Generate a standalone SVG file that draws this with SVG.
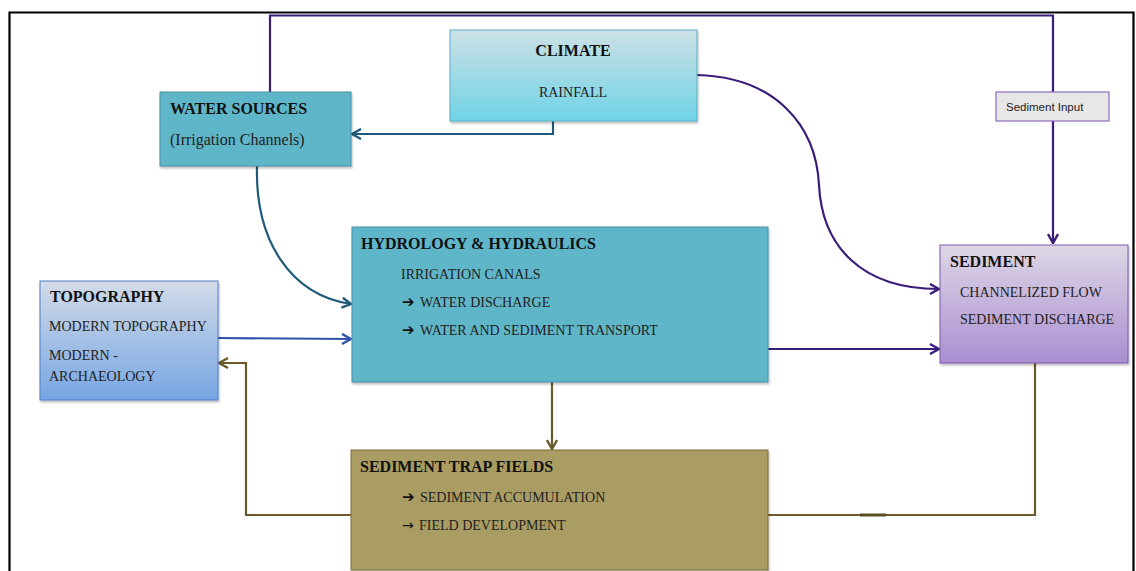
<svg xmlns="http://www.w3.org/2000/svg" width="1136" height="571" viewBox="0 0 1136 571">
  <style>
    .title { font-family: "Liberation Serif", "Times New Roman", serif; font-weight: bold; font-size: 16px; fill: #111; }
    .body { font-family: "Liberation Serif", "Times New Roman", serif; font-size: 14px; fill: #222; }
    .body16 { font-family: "Liberation Serif", "Times New Roman", serif; font-size: 16px; fill: #222; }
    .heavy { font-family: "DejaVu Sans", sans-serif; font-size: 15px; fill: #111; }
    .thin { font-family: "DejaVu Sans", sans-serif; font-size: 14px; fill: #111; }
    .tag { font-family: "Liberation Sans", Arial, sans-serif; font-size: 11.5px; fill: #222; }
    .box { filter: url(#shadow); }
    .conn { fill: none; stroke-width: 2.2; }
    .purple { stroke: #3b1c7a; }
    .teal { stroke: #1f5b78; }
    .blue { stroke: #2f53a8; }
    .olive { stroke: #6a5a2a; }
  </style>
  <defs>
    <filter id="shadow" x="-5%" y="-5%" width="112%" height="115%">
      <feDropShadow dx="1" dy="2" stdDeviation="1.2" flood-color="#000" flood-opacity="0.25"/>
    </filter>
    <linearGradient id="gClimate" x1="0" y1="0" x2="0" y2="1">
      <stop offset="0" stop-color="#cde0e6"/>
      <stop offset="1" stop-color="#6fd3e6"/>
    </linearGradient>
    <linearGradient id="gTopo" x1="0" y1="0" x2="0" y2="1">
      <stop offset="0" stop-color="#d3dbe8"/>
      <stop offset="1" stop-color="#76a6e3"/>
    </linearGradient>
    <linearGradient id="gSed" x1="0" y1="0" x2="0" y2="1">
      <stop offset="0" stop-color="#ddd7e6"/>
      <stop offset="1" stop-color="#aa8ed1"/>
    </linearGradient>
    <marker id="aPurple" viewBox="0 0 12 12" refX="11" refY="6" markerWidth="12" markerHeight="12" markerUnits="userSpaceOnUse" orient="auto">
      <path d="M2,1 L11,6 L2,11" fill="none" stroke="#3b1c7a" stroke-width="2.4"/>
    </marker>
    <marker id="aTeal" viewBox="0 0 12 12" refX="11" refY="6" markerWidth="12" markerHeight="12" markerUnits="userSpaceOnUse" orient="auto">
      <path d="M2,1 L11,6 L2,11" fill="none" stroke="#1f5b78" stroke-width="2.4"/>
    </marker>
    <marker id="aBlue" viewBox="0 0 12 12" refX="11" refY="6" markerWidth="12" markerHeight="12" markerUnits="userSpaceOnUse" orient="auto">
      <path d="M2,1 L11,6 L2,11" fill="none" stroke="#2f53a8" stroke-width="2.4"/>
    </marker>
    <marker id="aOlive" viewBox="0 0 12 12" refX="11" refY="6" markerWidth="12" markerHeight="12" markerUnits="userSpaceOnUse" orient="auto">
      <path d="M2,1 L11,6 L2,11" fill="none" stroke="#6a5a2a" stroke-width="2.4"/>
    </marker>
  </defs>

  <rect width="1136" height="571" fill="#ffffff"/>
  <!-- outer frame -->
  <path d="M9.5,575 V12.5 H1133.5 V575" fill="none" stroke="#000" stroke-width="2.2"/>

  <!-- connectors -->
  <g id="connectors">
    <!-- water sources top loop to sediment -->
    <path class="conn purple" d="M270,92 V15.5 H1053 V243" marker-end="url(#aPurple)"/>
    <!-- climate to water sources -->
    <path class="conn teal" d="M553,121 V134 H352" marker-end="url(#aTeal)"/>
    <!-- climate to sediment -->
    <path class="conn purple" d="M697,75 C775,77 816,125 819,185 C822,245 860,289 939,289" marker-end="url(#aPurple)"/>
    <!-- water sources to hydrology -->
    <path class="conn teal" d="M257,166 C255,240 290,295 351,304" marker-end="url(#aTeal)"/>
    <!-- topography to hydrology -->
    <path class="conn blue" d="M218,338 L351,339" marker-end="url(#aBlue)"/>
    <!-- hydrology to sediment -->
    <path class="conn purple" d="M768,349 H939" marker-end="url(#aPurple)"/>
    <!-- hydrology to trap fields -->
    <path class="conn olive" d="M552,382 V449" marker-end="url(#aOlive)"/>
    <!-- trap fields back to topography -->
    <path class="conn olive" d="M351,515 H246 V363 H219" marker-end="url(#aOlive)"/>
    <!-- sediment down to trap fields -->
    <path class="conn olive" d="M1035,363 V515 H768"/>
    <path d="M860,515 H886" stroke="#5a4c22" stroke-width="3"/>
  </g>

  <g id="climate">
    <rect class="box" x="450" y="30" width="247" height="91" fill="url(#gClimate)" stroke="#5aaec6" stroke-width="1"/>
    <text class="title" x="573" y="56" text-anchor="middle">CLIMATE</text>
    <text class="body" x="573" y="97" text-anchor="middle">RAINFALL</text>
  </g>

  <g id="water-sources">
    <rect class="box" x="160" y="92" width="191" height="74" fill="#5fb6c9" stroke="#4690a6" stroke-width="1"/>
    <text class="title" x="170" y="114">WATER SOURCES</text>
    <text class="body16" x="170" y="145">(Irrigation Channels)</text>
  </g>

  <g id="sediment-input">
    <rect x="996" y="92" width="113" height="29" fill="#e7e7e7" stroke="#8c6cbc" stroke-width="1.2"/>
    <text class="tag" x="1006" y="111">Sediment Input</text>
  </g>

  <g id="topography">
    <rect class="box" x="40" y="281" width="178" height="119" fill="url(#gTopo)" stroke="#4f7fc4" stroke-width="1"/>
    <text class="title" x="50" y="302">TOPOGRAPHY</text>
    <text class="body" x="49" y="331">MODERN TOPOGRAPHY</text>
    <text class="body" x="49" y="360">MODERN -</text>
    <text class="body" x="49" y="381">ARCHAEOLOGY</text>
  </g>

  <g id="hydrology">
    <rect class="box" x="352" y="227" width="416" height="155" fill="#5fb6c9" stroke="#4690a6" stroke-width="1"/>
    <text class="title" x="361" y="249">HYDROLOGY &amp; HYDRAULICS</text>
    <text class="body" x="401" y="279">IRRIGATION CANALS</text>
    <text class="heavy" x="402" y="307">➔</text>
    <text class="body" x="420" y="307">WATER DISCHARGE</text>
    <text class="heavy" x="402" y="335">➔</text>
    <text class="body" x="420" y="335">WATER AND SEDIMENT TRANSPORT</text>
  </g>

  <g id="sediment">
    <rect class="box" x="940" y="245" width="188" height="118" fill="url(#gSed)" stroke="#7a5aa8" stroke-width="1"/>
    <text class="title" x="950" y="267">SEDIMENT</text>
    <text class="body" x="960" y="297">CHANNELIZED FLOW</text>
    <text class="body" x="960" y="324">SEDIMENT DISCHARGE</text>
  </g>

  <g id="trap-fields">
    <rect class="box" x="351" y="450" width="417" height="120" fill="#a99d63" stroke="#7a6e3e" stroke-width="1"/>
    <text class="title" x="360" y="472">SEDIMENT TRAP FIELDS</text>
    <text class="heavy" x="402" y="502">➔</text>
    <text class="body" x="420" y="502">SEDIMENT ACCUMULATION</text>
    <text class="thin" x="402" y="530">→</text>
    <text class="body" x="419" y="530">FIELD DEVELOPMENT</text>
  </g>
</svg>
